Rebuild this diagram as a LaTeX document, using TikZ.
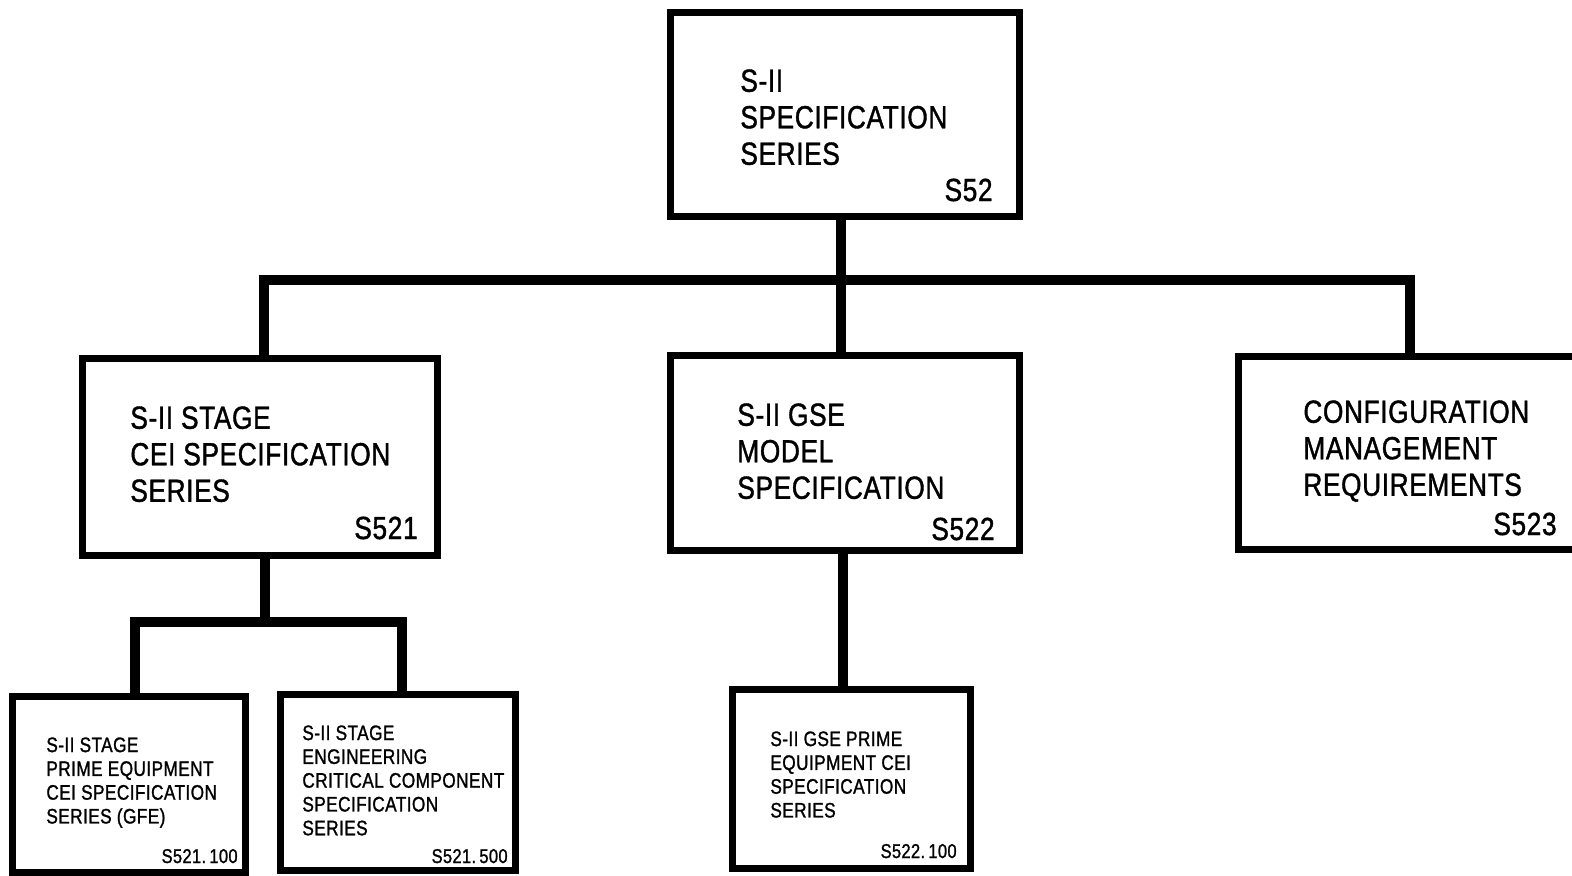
\documentclass[tikz,border=0pt]{standalone}
\usepackage{fontspec}
\setmainfont{Liberation Sans}[FakeStretch=0.82, FakeBold=1.2, LetterSpace=2]
\usetikzlibrary{fit}
\begin{document}
\begin{tikzpicture}[x=0.5pt,y=-0.5pt,
  box/.style={draw, line width=3.5pt, inner sep=0pt, fill=white},
  link/.style={line width=5pt},
  big/.style={anchor=north west, inner sep=0pt, align=left, font=\fontsize{16}{18.25}\selectfont},
  bignum/.style={anchor=base east, inner sep=0pt, font=\fontsize{16}{18.25}\selectfont},
  small/.style={anchor=north west, inner sep=0pt, align=left, font=\fontsize{10.5}{11.9}\selectfont},
  smallnum/.style={anchor=base east, inner sep=0pt, font=\fontsize{10}{12}\selectfont}]
\useasboundingbox (0,0) rectangle (1572,875);
\clip (0,0) rectangle (1572,875);
\fill[white] (0,0) rectangle (1572,875);

% boxes
\node[box, fit={(670,12) (1019,216)}] (top) {};
\node[box, fit={(82,358) (437,555)}] (left) {};
\node[box, fit={(670,355) (1019,550)}] (mid) {};
\node[box, fit={(1238,356) (1600,549)}] (right) {};
\node[box, fit={(12,696) (245,872)}] (b1) {};
\node[box, fit={(280,694) (515,870)}] (b2) {};
\node[box, fit={(732,689) (970,868)}] (b3) {};

% connectors
\coordinate (j0) at (841,280);
\coordinate (bL) at (264,280);
\coordinate (bR) at (1410,280);
\draw[link] (top.south -| j0) -- (mid.north -| j0);
\draw[link] (bL |- left.north) -- (bL) -- (bR) -- (bR |- right.north);
\coordinate (sC) at (265,622);
\coordinate (sL) at (135,622);
\coordinate (sR) at (402,622);
\draw[link] (left.south -| sC) -- (sC);
\draw[link] (b1.north -| sL) -- (sL) -- (sR) -- (b2.north -| sR);
\coordinate (g) at (843,620);
\draw[link] (mid.south -| g) -- (b3.north -| g);

% texts
\node[big] (ttop) at (740,69) {S-II\\SPECIFICATION\\SERIES};
\node[bignum] (ntop) at (993,201) {S52};
\node[big] (tleft) at (130,406) {S-II STAGE\\CEI SPECIFICATION\\SERIES};
\node[bignum] (nleft) at (418,539) {S521};
\node[big] (tmid) at (737,403) {S-II GSE\\MODEL\\SPECIFICATION};
\node[bignum] (nmid) at (995,540) {S522};
\node[big] (tright) at (1303,400) {CONFIGURATION\\MANAGEMENT\\REQUIREMENTS};
\node[bignum] (nright) at (1557,535) {S523};
\node[small] (tb1) at (46,737) {S-II STAGE\\PRIME EQUIPMENT\\CEI SPECIFICATION\\SERIES (GFE)};
\node[smallnum] (nb1) at (238,863) {S521.\,100};
\node[small] (tb2) at (302,725) {S-II STAGE\\ENGINEERING\\CRITICAL COMPONENT\\SPECIFICATION\\SERIES};
\node[smallnum] (nb2) at (508,863) {S521.\,500};
\node[small] (tb3) at (770,731) {S-II GSE PRIME\\EQUIPMENT CEI\\SPECIFICATION\\SERIES};
\node[smallnum] (nb3) at (957,858) {S522.\,100};
\end{tikzpicture}
\end{document}
